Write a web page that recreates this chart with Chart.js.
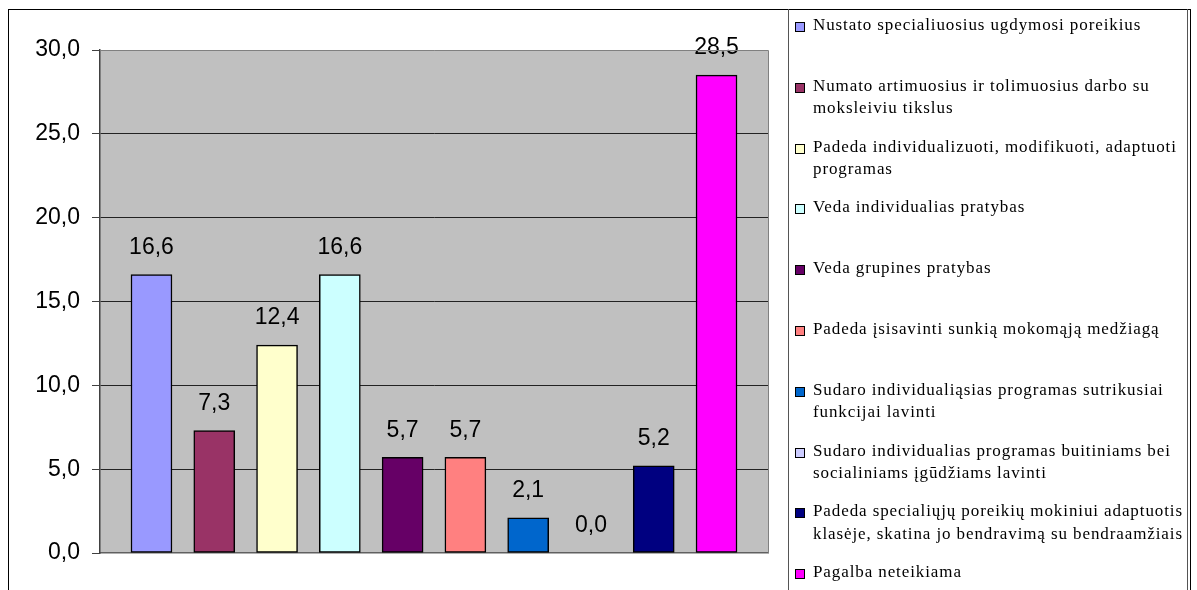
<!DOCTYPE html>
<html>
<head>
<meta charset="utf-8">
<script src="https://cdn.jsdelivr.net/npm/chart.js@4/dist/chart.umd.min.js"></script>
<style>
  html, body { margin: 0; padding: 0; background: #fff; }
  #wrap { position: relative; width: 1197px; height: 590px; overflow: hidden; }
  #frame { position: absolute; left: 8px; top: 9px; width: 1183px; height: 600px;
           border-left: 1px solid #000; border-top: 1px solid #000; border-right: 1px solid #000; box-sizing: border-box; }
  #chart { position: absolute; left: 0; top: 0; }
  #legend { position: absolute; left: 788px; top: 9px; width: 400px; height: 600px;
            border-left: 1px solid #555; border-right: 1px solid #555; box-sizing: border-box; }
  .item { position: absolute; left: 0; font-family: 'Liberation Serif', 'Times New Roman', serif;
          font-size: 17px; letter-spacing: 0.9px; line-height: 22.5px; color: #000; white-space: nowrap; }
  .box { position: absolute; left: 6px; top: 8px; width: 8px; height: 8px; border: 1.5px solid #000; }
  .txt { position: absolute; left: 24px; top: 0; }
</style>
</head>
<body>
<div id="wrap">
  <div id="frame"></div>
  <canvas id="chart" width="1197" height="590"></canvas>
  <div id="legend"></div>
</div>
<script>
const categories = [
  "Nustato specialiuosius ugdymosi poreikius",
  "Numato artimuosius ir tolimuosius darbo su\nmoksleiviu tikslus",
  "Padeda individualizuoti, modifikuoti, adaptuoti\nprogramas",
  "Veda individualias pratybas",
  "Veda grupines pratybas",
  "Padeda įsisavinti sunkią mokomąją medžiagą",
  "Sudaro individualiąsias programas sutrikusiai\nfunkcijai lavinti",
  "Sudaro individualias programas buitiniams bei\nsocialiniams įgūdžiams lavinti",
  "Padeda specialiųjų poreikių mokiniui adaptuotis\nklasėje, skatina jo bendravimą su bendraamžiais",
  "Pagalba neteikiama"
];
const values = [16.6, 7.3, 12.4, 16.6, 5.7, 5.7, 2.1, 0.0, 5.2, 28.5];
const colors = ["#9999FF", "#993366", "#FFFFCC", "#CCFFFF", "#660066", "#FF8080", "#0066CC", "#CCCCFF", "#000080", "#FF00FF"];
const yTicks = [0, 5, 10, 15, 20, 25, 30];

const fmt = v => v.toFixed(1).replace('.', ',');

const plotBg = {
  id: 'plotBg',
  beforeDraw(chart) {
    const a = chart.chartArea, c = chart.ctx;
    c.save();
    c.fillStyle = '#C0C0C0';
    c.fillRect(a.left, a.top, a.right - a.left, a.bottom - a.top);
    c.restore();
  },
  afterDraw(chart) {
    const a = chart.chartArea, c = chart.ctx;
    c.save();
    c.strokeStyle = '#808080';
    c.lineWidth = 1;
    c.beginPath();
    c.moveTo(a.left, a.top + 0.5); c.lineTo(a.right + 0.5, a.top + 0.5);
    c.lineTo(a.right + 0.5, a.bottom);
    c.stroke();
    c.restore();
  }
};

const valueLabels = {
  id: 'valueLabels',
  afterDatasetsDraw(chart) {
    const c = chart.ctx;
    const meta = chart.getDatasetMeta(0);
    c.save();
    c.font = '23px "Liberation Sans", Arial, sans-serif';
    c.fillStyle = '#000';
    c.textAlign = 'center';
    c.textBaseline = 'middle';
    meta.data.forEach((bar, i) => {
      c.fillText(fmt(values[i]), bar.x, bar.y - 27);
    });
    c.restore();
  }
};

new Chart(document.getElementById('chart'), {
  type: 'bar',
  data: {
    datasets: [{
      data: values.map((v, i) => ({ x: i + 1, y: v })),
      backgroundColor: colors,
      borderColor: '#000',
      borderWidth: 1.5,
      borderSkipped: false,
      barThickness: 41
    }]
  },
  options: {
    responsive: false,
    animation: false,
    events: [],
    layout: { padding: { left: 0, top: 50, right: 429, bottom: 37 } },
    plugins: { legend: { display: false }, tooltip: { enabled: false } },
    scales: {
      x: {
        type: 'linear',
        min: 0.18, max: 10.82,
        offset: false,
        grid: { display: false, drawTicks: false },
        border: { display: true, color: '#606060', width: 1.5 },
        ticks: { display: false },
        afterFit(s) { s.height = 0; }
      },
      y: {
        min: 0, max: 30,
        afterBuildTicks(s) { s.ticks = yTicks.map(v => ({ value: v })); },
        grid: {
          color: ctx => (ctx.tick && (ctx.tick.value === 0 || ctx.tick.value === 30)) ? 'rgba(0,0,0,0)' : '#222',
          tickColor: '#404040',
          tickLength: 8,
          lineWidth: 1
        },
        border: { display: true, color: '#404040', width: 1.5 },
        ticks: {
          padding: 12,
          color: '#000',
          font: { family: '"Liberation Sans", Arial, sans-serif', size: 23 },
          callback: v => fmt(v)
        },
        afterFit(s) { s.width = 100; }
      }
    }
  },
  plugins: [plotBg, valueLabels]
});

const legend = document.getElementById('legend');
categories.forEach((label, i) => {
  const item = document.createElement('div');
  item.className = 'item';
  item.style.top = (24 - 9 - 10 + i * 60.8) + 'px';
  const box = document.createElement('div');
  box.className = 'box';
  box.style.background = colors[i];
  const txt = document.createElement('div');
  txt.className = 'txt';
  txt.innerHTML = label.split('\n').map(s => s.replace(/&/g, '&amp;').replace(/</g, '&lt;')).join('<br>');
  item.appendChild(box);
  item.appendChild(txt);
  legend.appendChild(item);
});
</script>
</body>
</html>
